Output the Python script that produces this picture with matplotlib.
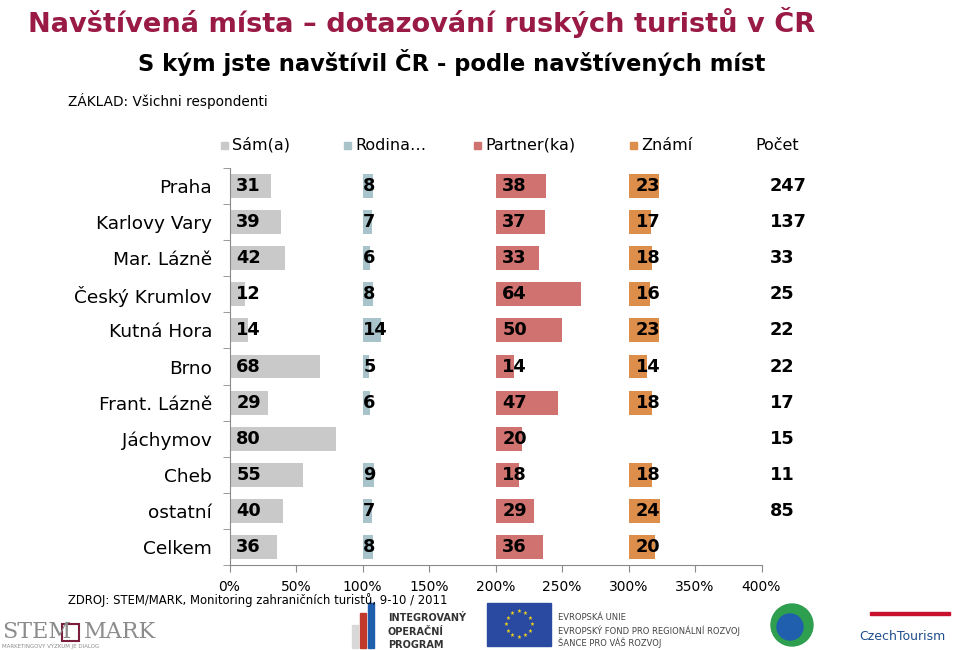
"""Navštívená místa – s kým jste navštívil ČR (stacked-by-column bar panel)."""

import matplotlib.pyplot as plt
import numpy as np
from matplotlib.patches import Rectangle, Ellipse

W, H = 959, 650

categories = ["Praha", "Karlovy Vary", "Mar. Lázně", "Český Krumlov", "Kutná Hora",
              "Brno", "Frant. Lázně", "Jáchymov", "Cheb", "ostatní", "Celkem"]
sam = [31, 39, 42, 12, 14, 68, 29, 80, 55, 40, 36]
rodina = [8, 7, 6, 8, 14, 5, 6, None, 9, 7, 8]
partner = [38, 37, 33, 64, 50, 14, 47, 20, 18, 29, 36]
znami = [23, 17, 18, 16, 23, 14, 18, None, 18, 24, 20]
pocet = [247, 137, 33, 25, 22, 22, 17, 15, 11, 85, None]

series_names = ["Sám(a)", "Rodina…", "Partner(ka)", "Známí"]
series_values = [sam, rodina, partner, znami]
colors = ["#C9C9C9", "#A8C3CA", "#D07270", "#DE8E4B"]
label_pad = [5.0, 0.5, 5.0, 5.5]  # label offset from bar start, in %
xticks = [0, 50, 100, 150, 200, 250, 300, 350, 400]


def fx(px):
    return px / W


def fy(py):
    return 1 - py / H


fig = plt.figure(figsize=(W / 100, H / 100), dpi=100)
ax = fig.add_axes([fx(229.5), fy(565), fx(761.5) - fx(229.5), fy(168) - fy(565)])

y = np.arange(len(categories))
for i, (vals, col) in enumerate(zip(series_values, colors)):
    base = i * 100
    for yi, v in zip(y, vals):
        if v is None:
            continue
        ax.barh(yi, v, left=base, height=0.66, color=col, edgecolor="none")
        ax.text(base + label_pad[i], yi, f"{v}", ha="left", va="center",
                fontsize=12.8, fontweight="bold", color="black")
for yi, v in zip(y, pocet):
    if v is None:
        continue
    ax.text(400 + 6.0, yi, f"{v}", ha="left", va="center", fontsize=12.8,
            fontweight="bold", color="black", clip_on=False)

ax.set_xlim(0, 400)
ax.set_ylim(len(categories) - 0.5, -0.5)
ax.set_xticks(xticks)
ax.set_xticklabels([f"{t}%" for t in xticks], fontsize=10)
ax.set_yticks(y)
ax.set_yticklabels(categories, fontsize=13.3)
ax.set_yticks(np.arange(-0.5, len(categories)), minor=True)
ax.tick_params(axis="y", which="major", length=0, pad=12.5)
ax.tick_params(axis="y", which="minor", length=5, color="#8A8A8A", direction="out")
ax.tick_params(axis="x", length=5, color="#8A8A8A", direction="out", pad=6)
for s in ["top", "right"]:
    ax.spines[s].set_visible(False)
for s in ["left", "bottom"]:
    ax.spines[s].set_color("#8A8A8A")

# legend row
leg_x = [221, 344, 474, 630]
for lx, name, col in zip(leg_x, series_names, colors):
    fig.patches.append(Rectangle((fx(lx), fy(149)), fx(7), 7 / H, color=col,
                                 transform=fig.transFigure))
    fig.text(fx(lx + 11), fy(145), name, fontsize=11.5, va="center", ha="left")
fig.text(fx(755), fy(145), "Počet", fontsize=11.5, va="center", ha="left")

# titles
fig.text(fx(28), fy(22), "Navštívená místa – dotazování ruských turistů v ČR",
         fontsize=19.6, fontweight="bold", color="#9A1A46", va="center", ha="left")
fig.text(fx(452), fy(63), "S kým jste navštívil ČR - podle navštívených míst",
         fontsize=16.3, fontweight="bold", color="black", va="center", ha="center")
fig.text(fx(68), fy(101), "ZÁKLAD: Všichni respondenti", fontsize=9.8,
         va="center", ha="left")
fig.text(fx(68), fy(600), "ZDROJ: STEM/MARK, Monitoring zahraničních turistů, 9-10 / 2011",
         fontsize=8.4, va="center", ha="left")

# footer logos (simplified)
fig.text(fx(2), fy(632), "STEM", fontsize=16, family="DejaVu Serif", color="#8C8C8C",
         va="center", ha="left")
fig.text(fx(84), fy(632), "MARK", fontsize=16, family="DejaVu Serif", color="#8C8C8C",
         va="center", ha="left")
fig.patches.append(Rectangle((fx(62), fy(641)), fx(17), 17 / H, fill=False,
                             edgecolor="#7A1E3C", lw=1.5, transform=fig.transFigure))
fig.text(fx(2), fy(646), "MARKETINGOVÝ VÝZKUM JE DIALOG", fontsize=4, color="#8C8C8C",
         va="center", ha="left")

for bx, btop, col in [(352, 625, "#D8D8D8"), (360, 613, "#C0392B"), (368, 603, "#1F5FAE")]:
    fig.patches.append(Rectangle((fx(bx), fy(648)), fx(6), (648 - btop) / H, color=col,
                                 transform=fig.transFigure))
for ty, txt in zip([618, 632, 645], ["INTEGROVANÝ", "OPERAČNÍ", "PROGRAM"]):
    fig.text(fx(388), fy(ty), txt, fontsize=7, fontweight="bold", color="#333333",
             va="center", ha="left")

fig.patches.append(Rectangle((fx(487), fy(646)), fx(64), 43 / H, color="#2A49A0",
                             transform=fig.transFigure))
for a in np.linspace(0, 2 * np.pi, 12, endpoint=False):
    fig.text(fx(519 + 13 * np.cos(a)), fy(624.5 + 13 * np.sin(a)), "★", fontsize=4,
             color="#F2D21B", va="center", ha="center")
for ty, txt in zip([618, 631, 643], ["EVROPSKÁ UNIE", "EVROPSKÝ FOND PRO REGIONÁLNÍ ROZVOJ",
                                     "ŠANCE PRO VÁŠ ROZVOJ"]):
    fig.text(fx(558), fy(ty), txt, fontsize=6, color="#444444", va="center", ha="left")

fig.patches.append(Ellipse((fx(792), fy(625)), fx(42), 42 / H, color="#2E9E4F",
                           transform=fig.transFigure))
fig.patches.append(Ellipse((fx(790), fy(627)), fx(26), 26 / H, color="#1F5FAE",
                           transform=fig.transFigure))
fig.text(fx(902), fy(636), "CzechTourism", fontsize=9, color="#1F4E8C",
         va="center", ha="center")
fig.patches.append(Rectangle((fx(870), fy(615)), fx(80), 3 / H, color="#C8102E",
                             transform=fig.transFigure))

fig.savefig("out.png", dpi=100)
